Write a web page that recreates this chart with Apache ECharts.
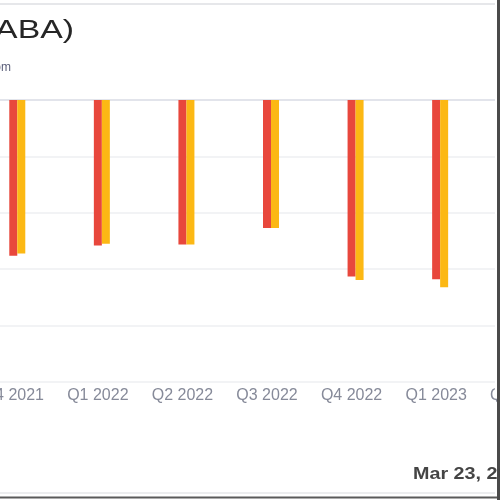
<!DOCTYPE html>
<html>
<head>
<meta charset="utf-8">
<script src="https://cdn.jsdelivr.net/npm/echarts@6/dist/echarts.min.js"></script>
<style>
html,body{margin:0;padding:0;background:#fff;overflow:hidden;width:500px;height:500px;position:relative;}
#c{position:absolute;left:-29px;top:0;width:592px;height:500px;}
</style>
</head>
<body>
<div id="c"></div>
<script>
// Data (y-axis units are off-canvas, values on a 0..5 scale)
const categories = ['Q4 2021', 'Q1 2022', 'Q2 2022', 'Q3 2022', 'Q4 2022', 'Q1 2023', 'Q2 2023'];
const actualValues = [null, null, null, null, null, null, null];
const redValues = [2.76, 2.58, 2.56, 2.27, 3.13, 3.18, null];
const orangeValues = [2.72, 2.55, 2.56, 2.27, 3.19, 3.32, null];
const titleText = 'Alibaba Group Holding Ltd (BABA)';
const subtitleText = 'Data by GuruFocus.com';
const dateText = 'Mar 23, 2023';

const OFF = 29; // the chart canvas is shifted left by this many pixels
const chart = echarts.init(document.getElementById('c'), null, {renderer: 'canvas'});
const FONT = '"Liberation Sans", Arial, sans-serif';
chart.setOption({
  animation: false,
  backgroundColor: '#ffffff',
  grid: {left: 0, right: 0, top: 100, bottom: 118, containLabel: false, outerBoundsMode: 'none'},
  xAxis: {
    type: 'category',
    data: categories,
    position: 'bottom',
    axisLine: {show: false, onZero: false},
    axisTick: {show: false},
    axisLabel: {color: '#868a99', fontSize: 16, fontFamily: FONT, margin: 6, interval: 0}
  },
  yAxis: {
    type: 'value',
    inverse: true,
    min: 0, max: 5, interval: 1,
    axisLine: {show: false},
    axisTick: {show: false},
    axisLabel: {show: false},
    splitLine: {show: true, lineStyle: {color: ['#d9dbe4', '#eeeff2', '#eeeff2', '#eeeff2', '#eeeff2', '#eeeff2'], width: 1.5}}
  },
  series: [
    {name: 'Actual', type: 'bar', data: actualValues, barWidth: 8, barGap: '0%', itemStyle: {color: '#4a6fd6'}},
    {name: 'Estimate A', type: 'bar', data: redValues, barWidth: 8, barGap: '0%', itemStyle: {color: '#e8473c'}},
    {name: 'Estimate B', type: 'bar', data: orangeValues, barWidth: 8, barGap: '0%', itemStyle: {color: '#fcb814'}}
  ],
  graphic: [
    {type: 'rect', z: 50, shape: {x: 495 + OFF, y: 90, width: 3, height: 300}, style: {fill: '#ffffff'}},
    {type: 'line', z: 60, shape: {x1: 0, y1: 4, x2: 495 + OFF, y2: 4}, style: {stroke: '#e6e7ea', lineWidth: 2}},
    {type: 'line', z: 60, shape: {x1: 0, y1: 493, x2: 495 + OFF, y2: 493}, style: {stroke: '#e6e7ea', lineWidth: 1.5}},
    {type: 'line', z: 60, shape: {x1: 0, y1: 497.5, x2: 500 + OFF, y2: 497.5}, style: {stroke: '#5a5a5a', lineWidth: 2}},
    {type: 'line', z: 60, shape: {x1: 498.5 + OFF, y1: 0, x2: 498.5 + OFF, y2: 500}, style: {stroke: '#4a4a4a', lineWidth: 3}},
    {type: 'text', z: 60, x: 74 + OFF, y: 31, scaleX: 1.3, style: {text: titleText, x: 0, y: 0, textAlign: 'right', textVerticalAlign: 'middle', font: '26px ' + FONT, fill: '#262626'}},
    {type: 'text', z: 60, x: 11 + OFF, y: 68, style: {text: subtitleText, x: 0, y: 0, textAlign: 'right', textVerticalAlign: 'middle', font: '12px ' + FONT, fill: '#5b5f7a'}},
    {type: 'text', z: 60, x: 413 + OFF, y: 474, scaleX: 1.16, style: {text: dateText, x: 0, y: 0, textAlign: 'left', textVerticalAlign: 'middle', font: 'bold 17px ' + FONT, fill: '#444444'}}
  ]
});
</script>
</body>
</html>
